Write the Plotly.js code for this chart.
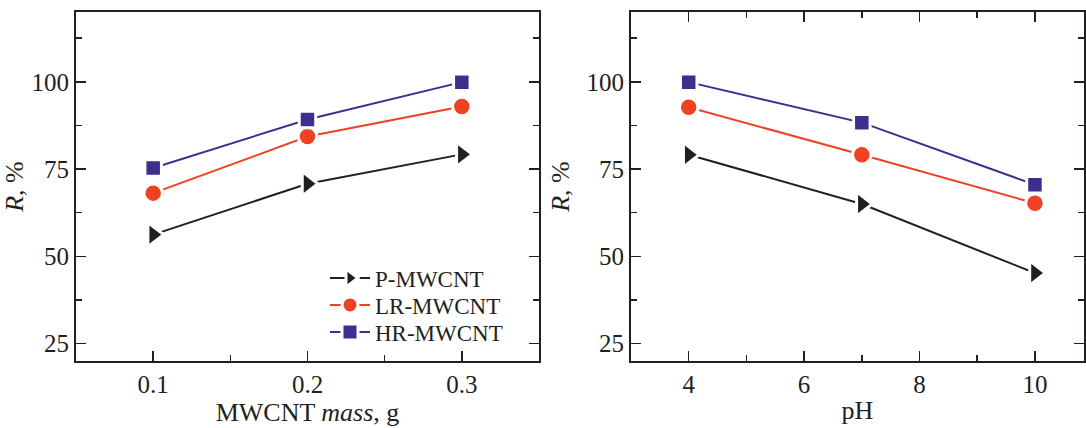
<!DOCTYPE html>
<html>
<head>
<meta charset="utf-8">
<script src="https://cdn.plot.ly/plotly-3.0.1.min.js"></script>
<style>html,body{margin:0;padding:0;background:#fff;}#chart{width:1086px;height:428px;}</style>
</head>
<body>
<div id="chart"></div>
<script>
// Left panel: removal vs MWCNT mass
const massValues = [0.1, 0.2, 0.3];
const massP  = [56.2, 70.8, 79.2];
const massLR = [68.1, 84.3, 92.9];
const massHR = [75.3, 89.2, 99.9];

// Right panel: removal vs pH
const phValues = [4, 7, 10];
const phP  = [79.1, 65.0, 45.2];
const phLR = [92.7, 79.1, 65.2];
const phHR = [99.9, 88.3, 70.5];

const seriesNames = ['P-MWCNT', 'LR-MWCNT', 'HR-MWCNT'];
const yTickVals = [25, 50, 75, 100];

const colors = ['#231f20', '#ef4123', '#3b2f90'];
const symbols = ['triangle-right', 'circle', 'square'];
const sizes = [21, 18.5, 16.5];
const legendIds = ['legend', 'legend2', 'legend3'];
const FONT = 'Liberation Serif, Times New Roman, serif';
const FS = 25;
const TFS = 26;
const LFS = 23;

function mk(x, y, i, xa, ya, show) {
  return {
    x: x, y: y, type: 'scatter', mode: 'lines+markers',
    name: seriesNames[i], xaxis: xa, yaxis: ya, showlegend: show,
    legend: legendIds[i],
    line: {color: colors[i], width: 2},
    marker: {symbol: symbols[i], size: sizes[i], color: colors[i], line: {color: '#ffffff', width: 3}},
    cliponaxis: false
  };
}

const data = [
  mk(massValues, massP, 0, 'x', 'y', true),
  mk(massValues, massLR, 1, 'x', 'y', true),
  mk(massValues, massHR, 2, 'x', 'y', true),
  mk(phValues, phP, 0, 'x2', 'y2', false),
  mk(phValues, phLR, 1, 'x2', 'y2', false),
  mk(phValues, phHR, 2, 'x2', 'y2', false)
];

const axCommon = {
  showline: true, linecolor: '#231f20', linewidth: 2,
  ticks: 'inside', ticklen: 10, tickwidth: 1.5, tickcolor: '#231f20',
  showgrid: false, zeroline: false,
  tickfont: {family: FONT, size: FS, color: '#231f20'}
};

const yAx = (anchor, standoff) => Object.assign({}, axCommon, {
  anchor: anchor, range: [20, 120], domain: [1 - 361/428, 1 - 12/428],
  tickmode: 'array', tickvals: yTickVals, mirror: 'ticks',
  minor: {dtick: 12.5, tick0: 0, ticks: 'inside', ticklen: 6, tickwidth: 1.5, tickcolor: '#231f20'},
  title: {text: '<i>R</i>, %', font: {family: FONT, size: TFS, color: '#231f20'}, standoff: standoff}
});

function leg(yc) {
  return {
    x: 325/1086, y: 1 - yc/428, xanchor: 'left', yanchor: 'middle',
    bgcolor: 'rgba(0,0,0,0)', borderwidth: 0, itemwidth: 40,
    font: {family: FONT, size: LFS, color: '#231f20'}
  };
}

const layout = {
  width: 1086, height: 428,
  margin: {l: 0, r: 0, t: 0, b: 0},
  paper_bgcolor: '#ffffff', plot_bgcolor: '#ffffff',
  font: {family: FONT, size: FS, color: '#231f20'},
  xaxis: Object.assign({}, axCommon, {
    anchor: 'y', domain: [76/1086, 539/1086], range: [0.05, 0.35],
    tickmode: 'array', tickvals: massValues, ticktext: ['0.1', '0.2', '0.3'], mirror: true,
    minor: {dtick: 0.05, tick0: 0, ticks: 'inside', ticklen: 6, tickwidth: 1.5, tickcolor: '#231f20'},
    title: {text: 'MWCNT <i>mass</i>, g', font: {family: FONT, size: TFS, color: '#231f20'}, standoff: 4}
  }),
  yaxis: yAx('x', 9),
  xaxis2: Object.assign({}, axCommon, {
    anchor: 'y2', domain: [631/1086, 1084/1086], range: [3, 10.85],
    tickmode: 'linear', tick0: 0, dtick: 2, mirror: 'ticks',
    minor: {dtick: 1, tick0: 0, ticks: 'inside', ticklen: 6, tickwidth: 1.5, tickcolor: '#231f20'},
    title: {text: 'pH', font: {family: FONT, size: TFS, color: '#231f20'}, standoff: 4}
  }),
  yaxis2: yAx('x2', 9),
  showlegend: true,
  legend: leg(278),
  legend2: leg(305),
  legend3: leg(332)
};

Plotly.newPlot('chart', data, layout, {displayModeBar: false, staticPlot: true});
</script>
</body>
</html>
